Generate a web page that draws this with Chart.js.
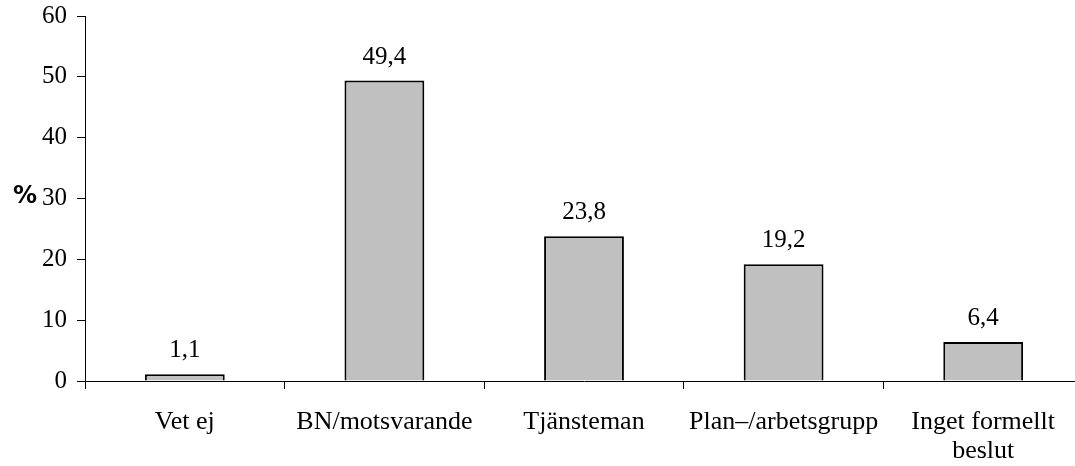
<!DOCTYPE html>
<html>
<head>
<meta charset="utf-8">
<script src="https://cdn.jsdelivr.net/npm/chart.js@4/dist/chart.umd.min.js"></script>
<style>
  html, body { margin: 0; padding: 0; background: #fff; overflow: hidden; }
  #wrap { width: 1090px; height: 466px; }
</style>
</head>
<body>
<div id="wrap"><canvas id="myChart" width="1090" height="466"></canvas></div>
<script>
const categories = ['Vet ej', 'BN/motsvarande', 'Tjänsteman', 'Plan–/arbetsgrupp', ['Inget formellt', 'beslut']];
const values = [1.1, 49.4, 23.8, 19.2, 6.4];
const yTicks = [0, 10, 20, 30, 40, 50, 60];

const FONT = "'Liberation Serif', 'Times New Roman', serif";

const valueLabels = {
  id: 'valueLabels',
  afterDatasetsDraw(chart) {
    const ctx = chart.ctx;
    const meta = chart.getDatasetMeta(0);
    ctx.save();
    ctx.font = '25px ' + FONT;
    ctx.fillStyle = '#000';
    ctx.textAlign = 'center';
    ctx.textBaseline = 'bottom';
    meta.data.forEach((bar, i) => {
      ctx.fillText(values[i].toFixed(1).replace('.', ','), bar.x, bar.y - 11);
    });
    // the "%" unit label left of the y axis
    ctx.font = 'bold 24px "DejaVu Sans", Arial, sans-serif';
    ctx.textAlign = 'center';
    ctx.textBaseline = 'middle';
    ctx.fillText('%', 25, 197);
    ctx.restore();
  }
};

const ctx = document.getElementById('myChart').getContext('2d');
new Chart(ctx, {
  type: 'bar',
  data: {
    labels: categories,
    datasets: [{
      data: values,
      backgroundColor: '#c0c0c0',
      borderColor: '#000',
      borderWidth: 2,
      barPercentage: 0.4,
      categoryPercentage: 1,
    }]
  },
  options: {
    responsive: false,
    animation: false,
    layout: { padding: { top: 16, right: 7, left: 0, bottom: 0 } },
    plugins: {
      legend: { display: false },
      tooltip: { enabled: false },
    },
    scales: {
      x: {
        afterFit(scale) { scale.height = 85; scale.paddingLeft = 0; scale.paddingRight = 0; },
        grid: { drawOnChartArea: false, offset: true, tickLength: 8, color: '#000', tickWidth: 1 },
        border: { color: '#000', width: 1 },
        ticks: { color: '#000', font: { family: FONT, size: 26, lineHeight: 1.1 }, padding: 19, maxRotation: 0, autoSkip: false },
      },
      y: {
        min: 0,
        max: 60,
        afterFit(scale) { scale.width = 85; scale.paddingTop = 0; scale.paddingBottom = 0; },
        afterBuildTicks(scale) { scale.ticks = yTicks.map(v => ({ value: v })); },
        grid: { drawOnChartArea: false, tickLength: 8, color: '#000' },
        border: { color: '#000', width: 1 },
        ticks: { color: '#000', font: { family: FONT, size: 25 }, padding: 10 },
      }
    }
  },
  plugins: [valueLabels]
});
</script>
</body>
</html>
